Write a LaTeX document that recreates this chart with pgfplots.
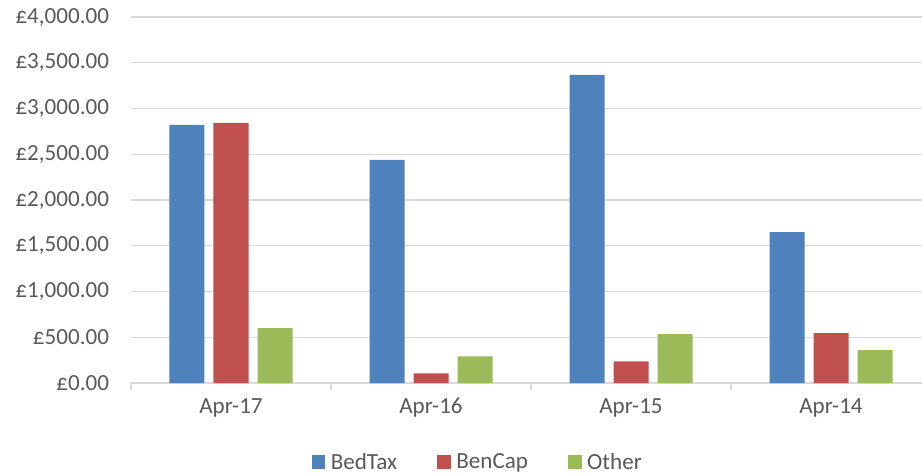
\documentclass[border=0pt]{standalone}
\usepackage{pgfplots}
\pgfplotsset{compat=1.18}
\usepackage{fontspec}
\setmainfont{Carlito}
\definecolor{cBlue}{HTML}{4F81BD}
\definecolor{cRed}{HTML}{C0504D}
\definecolor{cGreen}{HTML}{9BBB59}
\definecolor{cGrid}{HTML}{D9D9D9}
\definecolor{cText}{HTML}{595959}
\begin{document}
\begin{tikzpicture}
\useasboundingbox (-98.25pt,-69pt) rectangle (593.25pt,287.25pt);
\begin{axis}[
  at={(0pt,0pt)}, anchor=south west,
  scale only axis, width=593.25pt, height=274.5pt,
  xmin=-0.5, xmax=3.455, ymin=0, ymax=4000,
  ybar,
  bar width=26.25pt,
  axis x line=bottom, axis y line=left,
  axis line style={-, draw=cGrid, line width=0.9pt},
  y axis line style={draw=none},
  ymajorgrids, grid style={cGrid, line width=0.9pt},
  ytick={0,500,...,4000},
  yticklabels={{£0.00},{£500.00},{£1,000.00},{£1,500.00},{£2,000.00},{£2,500.00},{£3,000.00},{£3,500.00},{£4,000.00}},
  xtick={0,1,2,3},
  xticklabels={Apr-17,Apr-16,Apr-15,Apr-14},
  minor xtick={-0.5,0.5,1.5,2.5},
  major tick length=0pt,
  minor tick length=5pt,
  minor tick style={draw=cGrid, line width=0.9pt},
  tick align=outside,
  every tick label/.append style={font=\fontsize{17.3}{20}\selectfont, text=cText},
  yticklabel style={xshift=-13pt},
  xticklabel style={yshift=-8pt},
  legend style={at={(0.4387,-0.216)}, anchor=center, draw=none, legend columns=-1,
    font=\fontsize{17.3}{20}\selectfont, text=cText,
    /tikz/every odd column/.append style={column sep=2pt},
    /tikz/every even column/.append style={column sep=28pt}},
  legend image code/.code={\fill[#1] (0pt,-5.2pt) rectangle (10.4pt,5.2pt);},
]
\addplot[fill=cBlue, draw=none, bar shift=-33pt] coordinates {(0,2821) (1,2438) (2,3368) (3,1650)};
\addplot[fill=cRed, draw=none, bar shift=0pt] coordinates {(0,2843) (1,106) (2,237) (3,544)};
\addplot[fill=cGreen, draw=none, bar shift=33pt] coordinates {(0,599) (1,292) (2,534) (3,358)};
\legend{BedTax,BenCap,Other}
\end{axis}
\end{tikzpicture}
\end{document}
